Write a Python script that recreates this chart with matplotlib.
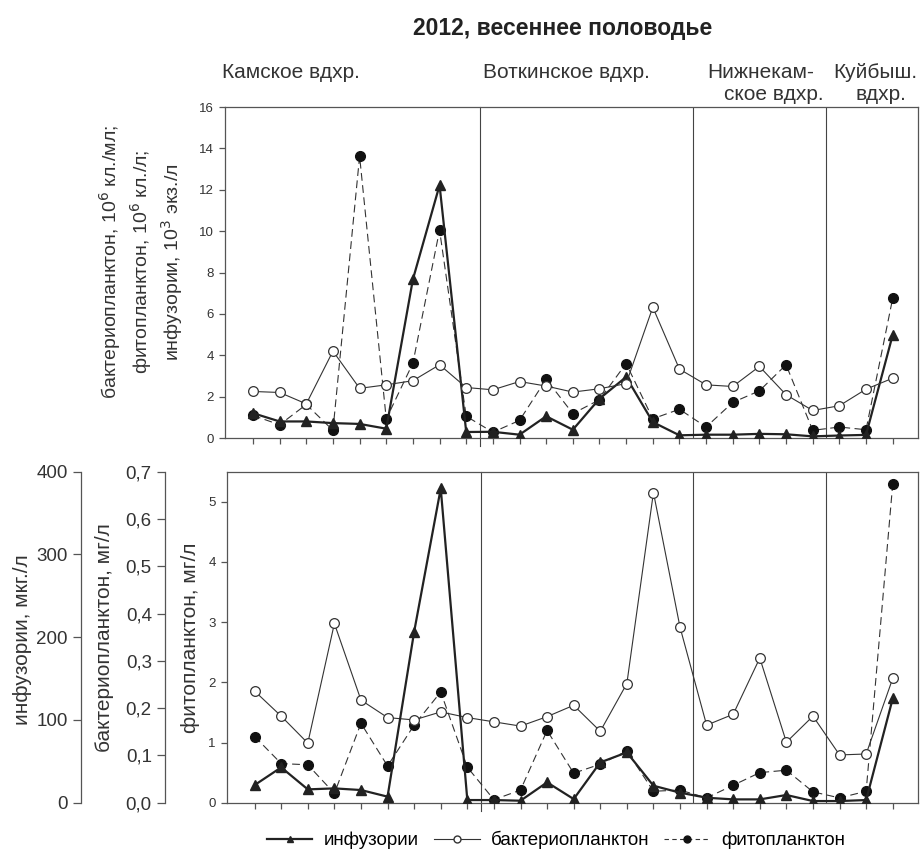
import matplotlib
matplotlib.use('Agg')
from matplotlib import pyplot as plt
from matplotlib.lines import Line2D
from matplotlib.ticker import FuncFormatter

plt.rcParams['font.family'] = ['Liberation Sans', 'DejaVu Sans']

# станции (25 точек), границы водохранилищ между станциями
stations = list(range(25))
borders = [8.5, 16.5, 21.5]

# численность
bact_n = [2.25, 2.2, 1.65, 4.2, 2.4, 2.57, 2.77, 3.54, 2.44, 2.33, 2.73, 2.51, 2.22,
          2.38, 2.63, 6.32, 3.33, 2.57, 2.49, 3.46, 2.09, 1.33, 1.56, 2.36, 2.89]
phyto_n = [1.09, 0.64, 1.62, 0.37, 13.62, 0.92, 3.62, 10.05, 1.05, 0.28, 0.85, 2.84, 1.18,
           1.85, 3.6, 0.93, 1.39, 0.53, 1.72, 2.28, 3.54, 0.37, 0.53, 0.4, 6.75]
inf_n = [1.2, 0.8, 0.8, 0.72, 0.68, 0.45, 7.67, 12.22, 0.29, 0.3, 0.16, 1.05, 0.4,
         1.9, 2.95, 0.77, 0.13, 0.16, 0.16, 0.2, 0.18, 0.08, 0.12, 0.15, 4.98]

# биомасса
bact_b = [0.236, 0.183, 0.126, 0.379, 0.217, 0.180, 0.175, 0.192, 0.180, 0.171, 0.162, 0.182, 0.206,
          0.151, 0.252, 0.656, 0.371, 0.164, 0.187, 0.306, 0.128, 0.183, 0.101, 0.103, 0.263]
phyto_b = [1.10, 0.65, 0.63, 0.155, 1.32, 0.61, 1.29, 1.84, 0.59, 0.05, 0.21, 1.20, 0.49,
           0.64, 0.86, 0.19, 0.21, 0.08, 0.29, 0.50, 0.54, 0.18, 0.08, 0.19, 5.30]
inf_b = [21.3, 42.7, 16.1, 17.3, 15.3, 7.3, 206.6, 379.8, 3.2, 3.2, 2.4, 24.6, 4.4,
         48.7, 60.8, 20.5, 12.1, 6, 4, 4, 9.3, 2, 2, 3.2, 126]

W, H = 922, 861
fig = plt.figure(figsize=(W / 100, H / 100), dpi=100)

def box(l, t, r, b):
    return [l / W, 1 - b / H, (r - l) / W, (b - t) / H]

ink = '#222222'
frame = '#555555'
txt = '#333333'
inf_style = dict(color=ink, lw=1.6, marker='^', ms=6.5, mfc=ink, mec=ink)
bact_style = dict(color='#333333', lw=0.8, marker='o', ms=7, mfc='white', mec='#333333', mew=0.9)
phyto_style = dict(color='#333333', lw=0.8, ls=(0, (7, 4)), marker='o', ms=7, mfc='#111111', mec='#111111')

def style_axis(ax):
    for s in ax.spines.values():
        s.set_color(frame)
        s.set_linewidth(0.9)
    ax.tick_params(axis='both', direction='out', color=frame, length=4.5, width=0.9,
                   labelsize=9.5, labelcolor=txt)
    ax.set_xlim(-1.05, 24.95)
    ax.set_xticks(stations)
    ax.set_xticklabels([])
    ax.axvline(borders[0], ymin=-0.025, color='#444444', lw=0.8, zorder=1, clip_on=False)
    for xb in borders[1:]:
        ax.axvline(xb, color='#444444', lw=0.8, zorder=1)

# верхний график
ax1 = fig.add_axes(box(225, 107, 918, 438))
style_axis(ax1)
ax1.plot(stations, phyto_n, zorder=3, **phyto_style)
ax1.plot(stations, inf_n, zorder=4, **inf_style)
ax1.plot(stations, bact_n, zorder=5, **bact_style)
ax1.set_ylim(0, 16)
ax1.set_yticks(range(0, 17, 2))

top_label = ['бактериопланктон, 10$^6$ кл./мл;', 'фитопланктон, 10$^6$ кл./л;', 'инфузории, 10$^3$ экз./л']
for line, lx in zip(top_label, [110, 141, 172]):
    fig.text(lx / W, 1 - 262 / H, line, rotation=90, ha='center', va='center',
             fontsize=14, color=txt)

# нижний график: три оси Y
ax2 = fig.add_axes(box(226.7, 471.7, 918, 802.7))
style_axis(ax2)
ax2.plot(stations, phyto_b, zorder=3, **phyto_style)
ax2.set_ylim(0, 5.5)
ax2.set_yticks(range(0, 6))

ax_bac = ax2.twinx()
ax_inf = ax2.twinx()
for ax, off in ((ax_bac, 61.7), (ax_inf, 145.7)):
    for s in ('top', 'right', 'bottom'):
        ax.spines[s].set_visible(False)
    ax.spines['left'].set_visible(True)
    ax.spines['left'].set_position(('outward', off * 0.72))
    ax.spines['left'].set_color(frame)
    ax.spines['left'].set_linewidth(0.9)
    ax.yaxis.set_ticks_position('left')
    ax.yaxis.set_label_position('left')
    ax.tick_params(axis='y', direction='out', color=frame, length=6, width=0.9,
                   labelsize=13.5, labelcolor=txt)

ax_bac.plot(stations, bact_b, zorder=5, **bact_style)
ax_bac.set_ylim(0, 0.7)
ax_bac.set_yticks([i / 10 for i in range(8)])
ax_bac.yaxis.set_major_formatter(FuncFormatter(lambda v, p: f'{v:.1f}'.replace('.', ',')))

ax_inf.plot(stations, inf_b, zorder=4, **inf_style)
ax_inf.set_ylim(0, 400)
ax_inf.set_yticks(range(0, 401, 100))

for name, lx, ly in (('инфузории, мкг./л', 23, 640), ('бактериопланктон, мг/л', 105, 638),
                     ('фитопланктон, мг/л', 190, 638)):
    fig.text(lx / W, 1 - ly / H, name, rotation=90, ha='center', va='center',
             fontsize=15, color=txt)

# заголовки
fig.text(563 / W, 1 - 29 / H, '2012, весеннее половодье', ha='center', va='center',
         fontsize=16.5, fontweight='bold', color='#222222')
head = [('Камское вдхр.', 222, 72, 'left'), ('Воткинское вдхр.', 483, 72, 'left'),
        ('Нижнекам-', 814, 72, 'right'), ('ское вдхр.', 824, 95, 'right'),
        ('Куйбыш.', 875, 72, 'center'), ('вдхр.', 881, 95, 'center')]
for name, hx, hy, align in head:
    fig.text(hx / W, 1 - hy / H, name, ha=align, va='center', fontsize=15, color=txt)

# легенда
handles = [Line2D([], [], color=ink, lw=1.6, marker='^', ms=5, mfc=ink, mec=ink),
           Line2D([], [], color='#333333', lw=0.8, marker='o', ms=5, mfc='white', mec='#333333'),
           Line2D([], [], color='#333333', lw=0.8, ls=(0, (4, 3)), marker='o', ms=5, mfc='#111111', mec='#111111')]
fig.legend(handles, ['инфузории', 'бактериопланктон', 'фитопланктон'], loc='center',
           bbox_to_anchor=(556 / W, 1 - 840 / H), ncol=3, frameon=False, fontsize=13.5,
           handlelength=2.45, columnspacing=0.8, handletextpad=0.6)

fig.savefig('out.png', dpi=100)
